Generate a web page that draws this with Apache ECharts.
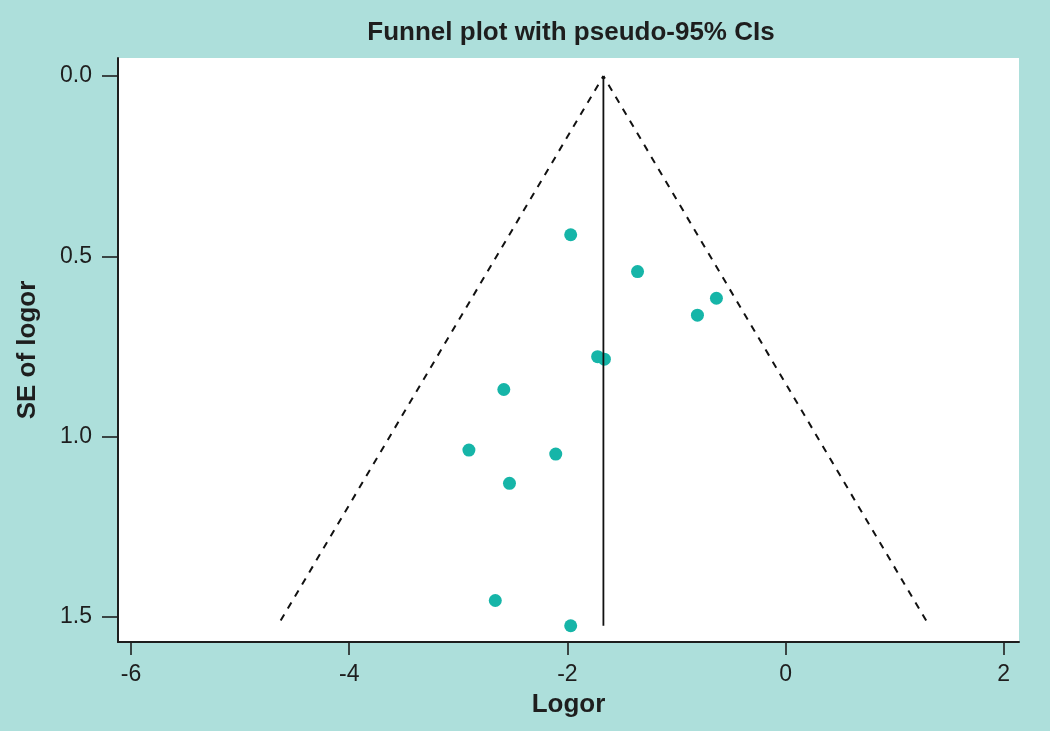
<!DOCTYPE html>
<html>
<head>
<meta charset="utf-8">
<style>html,body{margin:0;padding:0;background:#addfdb;}#chart{width:1050px;height:731px;}</style>
<script src="https://cdn.jsdelivr.net/npm/echarts@6/dist/echarts.min.js"></script>
</head>
<body>
<div id="chart"></div>
<script>
// Study points: [logor, SE of logor]
var logor = [-1.97, -1.357, -0.634, -0.808, -1.723, -1.661, -2.583, -2.903, -2.107, -2.531, -2.661, -1.97];
var seLogor = [0.440, 0.542, 0.616, 0.663, 0.778, 0.785, 0.869, 1.037, 1.048, 1.129, 1.454, 1.524];
// Pooled estimate line and pseudo-95% CI limits
var pooledLine = [[-1.67, 0], [-1.67, 1.524]];
var ciLeft = [[-1.67, 0], [-4.657, 1.524]];
var ciRight = [[-1.67, 0], [1.317, 1.524]];
var xTicks = [-6, -4, -2, 0, 2];
var yTicks = [0, 0.5, 1, 1.5];
var titleText = 'Funnel plot with pseudo-95% CIs';
var xName = 'Logor';
var yName = 'SE of logor';

var pts = logor.map(function (x, i) { return [x, seLogor[i]]; });
var font = '"Liberation Sans", Arial, Helvetica, sans-serif';
var ink = '#1e1e1e';
var chart = echarts.init(document.getElementById('chart'));
chart.setOption({
  backgroundColor: '#addfdb',
  animation: false,
  title: {
    text: titleText, left: 566, top: 15, textAlign: 'center',
    textStyle: { fontFamily: font, fontSize: 26, fontWeight: 'bold', color: ink }
  },
  grid: { left: 118, right: 31, top: 58, bottom: 89, show: true, backgroundColor: '#fff', borderWidth: 0 },
  xAxis: {
    type: 'value', min: -6.12, max: 2.14,
    name: xName, nameLocation: 'middle', nameGap: 50,
    nameTextStyle: { fontFamily: font, fontSize: 26, fontWeight: 'bold', color: ink },
    axisLine: { show: true, onZero: false, lineStyle: { color: ink, width: 2 } },
    axisTick: { show: true, customValues: xTicks, length: 13, lineStyle: { color: ink, width: 1.6 } },
    axisLabel: { customValues: xTicks, fontFamily: font, fontSize: 23, color: ink, margin: 21 },
    splitLine: { show: false }
  },
  yAxis: {
    type: 'value', inverse: true, min: -0.05, max: 1.569,
    name: yName, nameLocation: 'middle', nameGap: 77, nameRotate: 90,
    nameTextStyle: { fontFamily: font, fontSize: 26, fontWeight: 'bold', color: ink },
    axisLine: { show: true, onZero: false, lineStyle: { color: ink, width: 2 } },
    axisTick: { show: true, customValues: yTicks, length: 16, lineStyle: { color: ink, width: 1.6 } },
    axisLabel: {
      customValues: yTicks, fontFamily: font, fontSize: 23, color: ink, margin: 26,
      formatter: function (v) { return v.toFixed(1); }
    },
    splitLine: { show: false }
  },
  series: [
    { type: 'line', data: ciLeft, symbol: 'none', lineStyle: { color: '#111', width: 2, type: [7, 7], dashOffset: 4 }, silent: true },
    { type: 'line', data: ciRight, symbol: 'none', lineStyle: { color: '#111', width: 2, type: [7, 7], dashOffset: 4 }, silent: true },
    { type: 'line', data: pooledLine, symbol: 'none', lineStyle: { color: '#111', width: 1.8 }, silent: true },
    { type: 'scatter', data: pts, symbolSize: 13, itemStyle: { color: '#16b5a8', opacity: 1 } }
  ]
});
</script>
</body>
</html>
